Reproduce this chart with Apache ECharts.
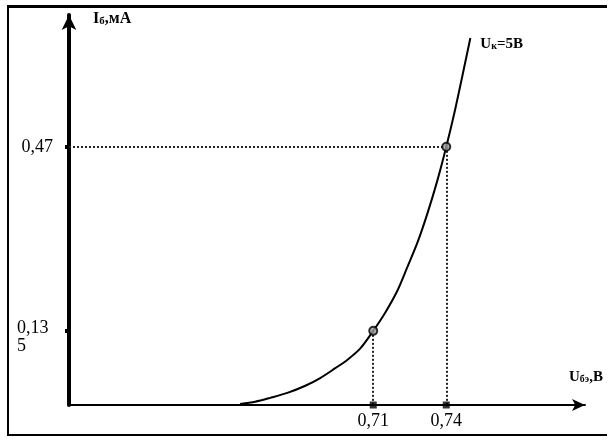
<!DOCTYPE html>
<html>
<head>
<meta charset="utf-8">
<script src="https://cdn.jsdelivr.net/npm/echarts@6/dist/echarts.min.js"></script>
<style>
html,body{margin:0;padding:0;background:#fff;}
#frame{position:absolute;left:7px;top:5px;width:600px;height:431px;border-left:2px solid #000;border-top:3px solid #000;border-bottom:2px solid #000;box-sizing:border-box;}
#chart{position:absolute;left:0;top:0;width:610px;height:441px;}
</style>
</head>
<body>
<div id="frame"></div>
<div id="chart"></div>
<script>
// Input characteristic: Uбэ (V) vs Iб (mA) at Uк = 5 В
const curveU = [0.6553, 0.6615, 0.6677, 0.6747, 0.6821, 0.6882, 0.6944, 0.6993, 0.7047, 0.71, 0.7149, 0.7199, 0.7240, 0.7281, 0.7322, 0.7363, 0.74, 0.7437, 0.7470, 0.7499];
const curveI = [0.002, 0.006, 0.013, 0.022, 0.035, 0.049, 0.067, 0.082, 0.103, 0.135, 0.168, 0.208, 0.251, 0.295, 0.348, 0.408, 0.47, 0.539, 0.607, 0.668];
const pointU = [0.71, 0.74];
const pointI = [0.135, 0.47];
const xTickValues = [0.71, 0.74];
const xTickLabels = ['0,71', '0,74'];
const yTickValues = [0.135, 0.47];
const yTickLabels = ['0,13\n5', '0,47'];
const curveName = 'Uк=5В';

const X_MIN = 0.585, X_MAX = 0.797, Y_MIN = 0, Y_MAX = 0.71;
const serif = "'Liberation Serif','DejaVu Serif',serif";

const chart = echarts.init(document.getElementById('chart'), null, {renderer: 'canvas'});

const curveData = curveU.map((u, i) => [u, curveI[i]]);
const pointData = pointU.map((u, i) => [u, pointI[i]]);
const axisPts = pointU.map(u => [u, 0]);

const option = {
  backgroundColor: 'transparent',
  animation: false,
  grid: {left: 69, right: 25, top: 15, bottom: 36, containLabel: false},
  xAxis: {
    type: 'value', min: X_MIN, max: X_MAX,
    name: '{m|U}{s|бэ}{m|,В}',
    nameLocation: 'end', nameGap: -16,
    nameTextStyle: {
      padding: [0, 0, 56, 0],
      rich: {
        m: {fontFamily: serif, fontSize: 15, fontWeight: 'bold', color: '#000'},
        s: {fontFamily: serif, fontSize: 10, fontWeight: 'bold', color: '#000', verticalAlign: 'bottom'}
      }
    },
    axisLine: {show: true, lineStyle: {color: '#000', width: 2}, symbol: ['none', 'arrow'], symbolSize: [9, 13]},
    splitLine: {show: false},
    axisTick: {show: false},
    axisLabel: {
      show: true, customValues: xTickValues, margin: 7,
      formatter: v => xTickLabels[xTickValues.indexOf(v)] ?? '',
      fontFamily: serif, fontSize: 18, color: '#000'
    }
  },
  yAxis: {
    type: 'value', min: Y_MIN, max: Y_MAX,
    name: '{m|I}{s|б}{m|,мА}',
    nameLocation: 'end', nameGap: -12,
    nameTextStyle: {
      align: 'left', padding: [0, 0, 0, 24],
      rich: {
        m: {fontFamily: serif, fontSize: 16, fontWeight: 'bold', color: '#000'},
        s: {fontFamily: serif, fontSize: 11, fontWeight: 'bold', color: '#000', verticalAlign: 'bottom'}
      }
    },
    axisLine: {show: true, lineStyle: {color: '#000', width: 4}, symbol: ['none', 'arrow'], symbolSize: [11, 15]},
    splitLine: {show: false},
    axisTick: {show: true, customValues: yTickValues, length: 4, lineStyle: {color: '#000', width: 4}},
    axisLabel: {
      show: true, customValues: yTickValues, margin: 16,
      formatter: v => {
        const t = yTickLabels[yTickValues.indexOf(v)] ?? '';
        const parts = t.split('\n');
        if (parts.length > 1) return '{f|' + parts[0] + '}\n{g|' + parts[1] + '}';
        return '{n|' + t + '}';
      },
      rich: {
        f: {fontFamily: serif, fontSize: 18, color: '#000', padding: [12, 0, 0, 0], width: 36, align: 'left'},
        g: {fontFamily: serif, fontSize: 18, color: '#000', width: 36, align: 'left'},
        n: {fontFamily: serif, fontSize: 18, color: '#000'}
      }
    }
  },
  series: [
    {
      type: 'line', name: curveName, data: curveData, smooth: 0.3,
      symbol: 'none', lineStyle: {color: '#000', width: 2},
      endLabel: {
        show: true, formatter: '{m|U}{s|к}{m|=5В}', distance: 10, offset: [0, 6],
        rich: {
          m: {fontFamily: serif, fontSize: 15, fontWeight: 'bold', color: '#000'},
          s: {fontFamily: serif, fontSize: 10, fontWeight: 'bold', color: '#000', verticalAlign: 'bottom'}
        }
      },
      markLine: {
        silent: true, symbol: ['none', 'none'], label: {show: false},
        lineStyle: {color: '#222', type: [2, 2], width: 2},
        data: [
          [{coord: [X_MIN, pointI[1]]}, {coord: [pointU[1], pointI[1]]}],
          [{coord: [pointU[1], pointI[1]]}, {coord: [pointU[1], 0]}],
          [{coord: [pointU[0], pointI[0]]}, {coord: [pointU[0], 0]}]
        ]
      },
      z: 3
    },
    {
      type: 'scatter', data: pointData, symbol: 'circle', symbolSize: 8,
      itemStyle: {color: '#999', borderColor: '#000', borderWidth: 2}, z: 5
    },
    {
      type: 'scatter', data: axisPts, symbol: 'rect', symbolSize: 7,
      itemStyle: {color: '#000'}, z: 5
    }
  ]
};
chart.setOption(option);
</script>
</body>
</html>
